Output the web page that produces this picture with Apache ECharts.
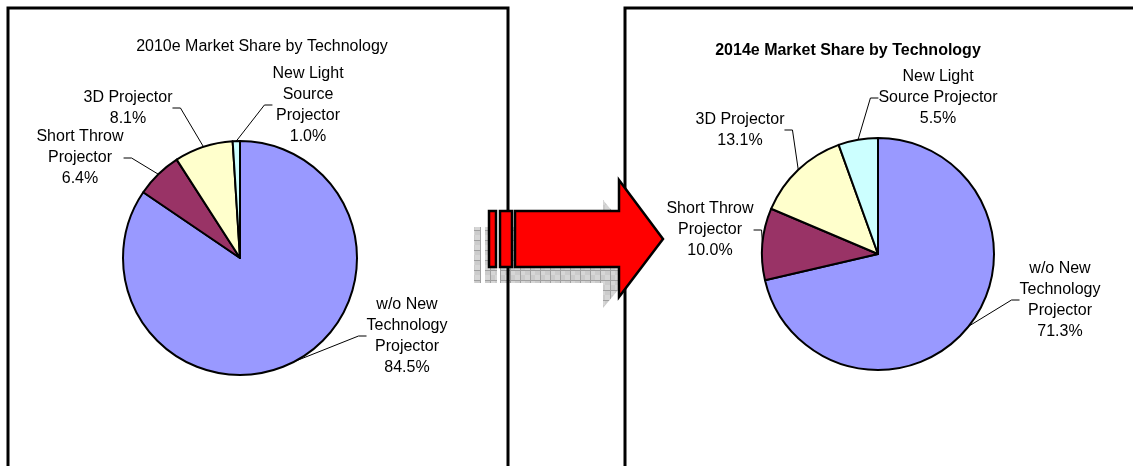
<!DOCTYPE html>
<html><head><meta charset="utf-8">
<script src="https://cdn.jsdelivr.net/npm/echarts@6/dist/echarts.min.js"></script>
<style>html,body{margin:0;padding:0;background:#fff}#c{width:1133px;height:466px}</style>
</head><body><div id="c"></div><script>
// ---- data ----
const categories = ['w/o New Technology Projector', 'Short Throw Projector', '3D Projector', 'New Light Source Projector'];
const labels2010 = ['w/o New\nTechnology\nProjector', 'Short Throw\nProjector', '3D Projector', 'New Light\nSource\nProjector'];
const labels2014 = ['w/o New\nTechnology\nProjector', 'Short Throw\nProjector', '3D Projector', 'New Light\nSource Projector'];
const share2010 = [84.5, 6.4, 8.1, 1.0];
const share2014 = [71.3, 10.0, 13.1, 5.5];
const titles = ['2010e Market Share by Technology', '2014e Market Share by Technology'];

// ---- style / layout ----
const colors = ['#9999FF', '#993366', '#FFFFCC', '#CCFFFF'];
const FONT = '"Liberation Sans", Arial, sans-serif';
const labelPos2010 = [[407, 336], [80, 158], [128, 108], [308, 105]];
const labelPos2014 = [[1060, 300], [710, 230], [740, 130], [938, 98]];

function makeData(vals, labels) {
  return categories.map((c, i) => ({ name: c, value: vals[i], labelText: labels[i], itemStyle: { color: colors[i] } }));
}

function pieSeries(vals, labels, center, radius, pos) {
  return {
    type: 'pie',
    center: center,
    radius: radius,
    startAngle: 90,
    clockwise: true,
    silent: true,
    animation: false,
    data: makeData(vals, labels),
    itemStyle: { borderColor: '#000', borderWidth: 2 },
    label: {
      show: true,
      position: 'outside',
      color: '#000',
      fontFamily: FONT,
      fontSize: 16,
      lineHeight: 21,
      align: 'center',
      formatter: p => p.data.labelText + '\n' + p.value.toFixed(1) + '%'
    },
    labelLine: { show: true, length: 10, length2: 8, lineStyle: { color: '#000', width: 1 } },
    labelLayout: function (params) {
      const p = pos[params.dataIndex];
      return { x: p[0], y: p[1], align: 'center', verticalAlign: 'middle' };
    },
    emphasis: { disabled: true }
  };
}

// shadow pattern
const pc = document.createElement('canvas');
pc.width = 10; pc.height = 10;
const g = pc.getContext('2d');
g.fillStyle = '#cbcbcb'; g.fillRect(0, 0, 10, 10);
g.fillStyle = '#d6d6d6'; g.fillRect(1, 1, 4, 4); g.fillRect(5, 5, 5, 5);
g.strokeStyle = '#a0a0a0'; g.lineWidth = 1;
g.beginPath(); g.moveTo(0, 0.5); g.lineTo(10, 0.5); g.moveTo(0.5, 0); g.lineTo(0.5, 10); g.stroke();

const arrowBody = [[515, 211], [619, 211], [619, 180], [663, 239], [619, 297], [619, 267], [515, 267]];
const shadowBody = [[500, 227], [603, 227], [603, 200], [648, 254], [603, 308], [603, 283], [500, 283]];
const bar1 = [489, 211, 7, 56];
const bar2 = [500, 211, 12, 56];
const sdx = -15, sdy = 16;
const shadowFill = { image: pc, repeat: 'repeat' };

const chart = echarts.init(document.getElementById('c'), null, { renderer: 'canvas' });
chart.setOption({
  animation: false,
  backgroundColor: '#fff',
  graphic: [
    // shadow (under box borders)
    { type: 'rect', z: 0, shape: { x: bar1[0] + sdx, y: bar1[1] + sdy, width: bar1[2], height: bar1[3] }, style: { fill: shadowFill } },
    { type: 'rect', z: 0, shape: { x: bar2[0] + sdx, y: bar2[1] + sdy, width: bar2[2], height: bar2[3] }, style: { fill: shadowFill } },
    { type: 'polygon', z: 0, shape: { points: shadowBody }, style: { fill: shadowFill } },
    // boxes
    { type: 'rect', z: 1, shape: { x: 8, y: 8, width: 500, height: 480 }, style: { fill: 'none', stroke: '#000', lineWidth: 3 } },
    { type: 'rect', z: 1, shape: { x: 625, y: 8, width: 540, height: 480 }, style: { fill: 'none', stroke: '#000', lineWidth: 3 } },
    { type: 'text', z: 5, x: 262, y: 47, style: { text: titles[0], font: '16px ' + FONT, fill: '#000', align: 'center', verticalAlign: 'middle' } },
    { type: 'text', z: 5, x: 848, y: 51, style: { text: titles[1], font: 'bold 16px ' + FONT, fill: '#000', align: 'center', verticalAlign: 'middle' } },
    // arrow
    { type: 'rect', z: 60, shape: { x: bar1[0], y: bar1[1], width: bar1[2], height: bar1[3] }, style: { fill: '#FF0000', stroke: '#000', lineWidth: 2.5 } },
    { type: 'rect', z: 60, shape: { x: bar2[0], y: bar2[1], width: bar2[2], height: bar2[3] }, style: { fill: '#FF0000', stroke: '#000', lineWidth: 2.5 } },
    { type: 'polygon', z: 60, shape: { points: arrowBody }, style: { fill: '#FF0000', stroke: '#000', lineWidth: 2.5, lineJoin: 'miter' } }
  ],
  series: [
    pieSeries(share2010, labels2010, [240, 258], 117, labelPos2010),
    pieSeries(share2014, labels2014, [878, 254], 116, labelPos2014)
  ]
});
</script></body></html>
